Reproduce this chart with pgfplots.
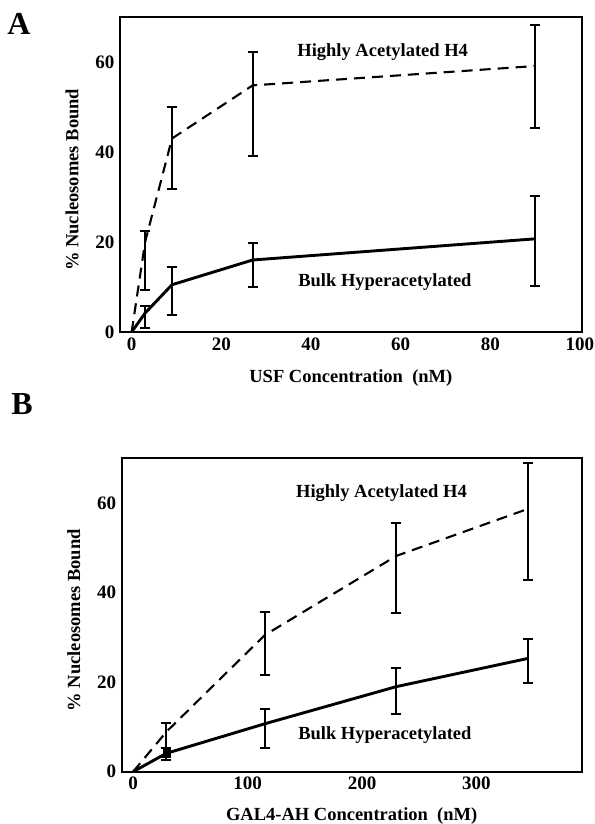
\documentclass[border=0pt]{standalone}
\usepackage{fontspec}
\setmainfont{Liberation Serif}
\usepackage{pgfplots}
\pgfplotsset{compat=1.18}

\pgfplotsset{
 myax/.style={
  scale only axis,
  axis line style={line width=2pt},
  major tick length=0pt,
  ymin=0, ymax=70, ytick={0,20,40,60},
  /pgf/number format/assume math mode=true,
  tick label style={font=\bfseries\fontsize{19}{19}\selectfont},
  yticklabel style={xshift=-2pt},
  xticklabel style={yshift=-2pt},
  label style={font=\bfseries\fontsize{18.5}{20}\selectfont},
  ylabel={\% Nucleosomes Bound},
  ylabel style={at={(axis description cs:-0.104,0.483)}, anchor=center},
  clip=false,
 },
 errb/.style={draw=none, mark=none, forget plot,
   error bars/.cd, y dir=both, y explicit,
   error bar style={draw=black, line width=2.2pt, solid},
   error mark options={draw=black, rotate=90, mark size=5pt, line width=2pt, solid}},
 dashln/.style={black, line width=2.1pt, dash pattern=on 11pt off 7pt},
 solidln/.style={black, line width=2.9pt},
}
\tikzset{lbl/.style={font=\bfseries\fontsize{18.5}{20}\selectfont}}

\begin{document}
\begin{tikzpicture}
\useasboundingbox (0pt,0pt) rectangle (594pt,824pt);

\node[font=\bfseries\fontsize{32}{32}\selectfont] at (19pt,800pt) {A};
\node[font=\bfseries\fontsize{32}{32}\selectfont] at (22pt,420pt) {B};

% Panel A
\begin{axis}[myax, at={(120pt,492pt)}, anchor=south west,
  width=461.7pt, height=315pt,
  xmin=-2.6, xmax=100.4, xtick={0,20,40,60,80,100},
  xlabel={USF Concentration~~(nM)},
  xlabel style={at={(axis description cs:0.5,-0.146)}, anchor=center}]
\addplot[dashln] coordinates {(0,0) (3,20) (9,43) (27,54.8) (90,59.1)};
\addplot[solidln] coordinates {(0,0) (3,4.2) (9,10.5) (27,16) (90,20.7)};
\addplot[errb] coordinates {
 (3,15.9) +- (0,6.6)
 (9,40.9) +- (0,9.1)
 (27,50.6) +- (0,11.55)
 (90,56.7) +- (0,11.45)
};
\addplot[errb] coordinates {
 (3,3.3) +- (0,2.5)
 (9,9.1) +- (0,5.3)
 (27,14.9) +- (0,4.8)
 (90,20.25) +- (0,10.05)
};
\node[lbl] at (axis cs:56,62.3) {Highly Acetylated H4};
\node[lbl] at (axis cs:56.5,11.2) {Bulk Hyperacetylated};
\end{axis}

% Panel B
\begin{axis}[myax, at={(121.7pt,52.3pt)}, anchor=south west,
  width=460pt, height=313.4pt,
  xmin=-10, xmax=392, xtick={0,100,200,300},
  xlabel={GAL4-AH Concentration~~(nM)},
  xlabel style={at={(axis description cs:0.5,-0.141)}, anchor=center}]
\addplot[dashln] coordinates {(0,0) (29,8.9) (115,30.5) (230,48.2) (345,58.7)};
\addplot[solidln] coordinates {(0,0) (29,4.1) (115,10.7) (230,19) (345,25.3)};
\addplot[errb] coordinates {
 (29,7) +- (0,3.8)
 (115,28.6) +- (0,7)
 (230,45.45) +- (0,10.05)
 (345,55.85) +- (0,13.05)
};
\addplot[errb] coordinates {
 (29,3.9) +- (0,1.3)
 (115,9.65) +- (0,4.25)
 (230,18.05) +- (0,5.15)
 (345,24.75) +- (0,4.85)
};
\addplot[only marks, mark=square*, mark size=3.5pt, black] coordinates {(29,4.5)};
\node[lbl] at (axis cs:217,62.2) {Highly Acetylated H4};
\node[lbl] at (axis cs:220,8.2) {Bulk Hyperacetylated};
\end{axis}
\end{tikzpicture}
\end{document}
